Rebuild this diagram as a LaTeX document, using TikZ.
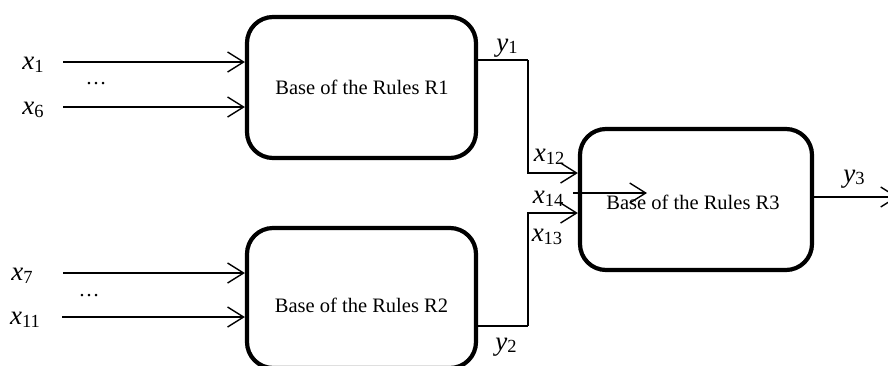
\documentclass[tikz,border=0pt]{standalone}
\usepackage{fontspec}
\setmainfont{Liberation Serif}
\usetikzlibrary{arrows.meta}
\newcommand\vlab[2]{\fontsize{27}{30}\selectfont\textit{#1}\fontsize{18.5}{20}\selectfont\raisebox{-0.3ex}{#2}}
\begin{document}
\begin{tikzpicture}[x=1pt,y=-1pt,
  rulebox/.style={draw, line width=4.2pt, rounded corners=26pt, inner sep=0pt,
    font=\fontsize{20.5}{22}\selectfont},
  conn/.style={line width=1.4pt, -{Straight Barb[length=16pt,width=20pt,line width=1.4pt]}},
  wire/.style={line width=1.4pt},
  lab/.style={inner sep=0pt},
  txt/.style={inner sep=0pt, font=\fontsize{20.5}{22}\selectfont}]
\useasboundingbox (0,0) rectangle (888,365);
\node[rulebox, minimum width=229pt, minimum height=141pt] (r1) at (361.5,87.5) {};
\node[txt] (r1t) at (362,87) {Base of the Rules R1};
\node[rulebox, minimum width=229pt, minimum height=140pt] (r2) at (361.5,298) {};
\node[txt] (r2t) at (361.5,305) {Base of the Rules R2};
\node[rulebox, minimum width=232pt, minimum height=141pt] (r3) at (696,199.5) {};
\node[txt] (r3t) at (693,202) {Base of the Rules R3};
% input labels
\node[lab] (lx1) at (33,65) {\vlab{x}{1}};
\node[lab] (lx6) at (33,110) {\vlab{x}{6}};
\node[lab] (lx7) at (22,276) {\vlab{x}{7}};
\node[lab] (lx11) at (25,320) {\vlab{x}{11}};
\node[lab, font=\fontsize{21}{21}\selectfont] (d1) at (96,84) {\dots};
\node[lab, font=\fontsize{21}{21}\selectfont] (d2) at (89,296) {\dots};
\coordinate (s1) at (63,62);
\coordinate (s6) at (63,107);
\coordinate (s7) at (63,273);
\coordinate (s11) at (62,317);
\draw[conn] (s1) -- (s1 -| r1.west);
\draw[conn] (s6) -- (s6 -| r1.west);
\draw[conn] (s7) -- (s7 -| r2.west);
\draw[conn] (s11) -- (s11 -| r2.west);
% y1 -> x12
\coordinate (o1) at (r1.east |- 0,60);
\coordinate (k1) at (528,60);
\coordinate (k2) at (528,173);
\draw[wire] (o1) -- (k1);
\draw[conn] (k1) -- (k2) -- (k2 -| r3.west);
% y2 -> x13
\coordinate (o2) at (r2.east |- 0,326);
\coordinate (k3) at (528,326);
\coordinate (k4) at (528,213);
\draw[wire] (o2) -- (k3);
\draw[conn] (k3) -- (k4) -- (k4 -| r3.west);
% x14
\coordinate (a14) at (573,193);
\coordinate (b14) at (647,193);
\draw[conn] (a14) -- (b14);
% y3
\coordinate (o3) at (r3.east |- 0,197);
\coordinate (e3) at (898,197);
\draw[conn] (o3) -- (e3);
% labels
\node[lab] (ly1) at (507,48) {\vlab{y}{1}};
\node[lab] (ly2) at (506,347) {\vlab{y}{2}};
\node[lab] (ly3) at (854,179) {\vlab{y}{3}};
\node[lab] (lx12) at (549,157) {\vlab{x}{12}};
\node[lab] (lx14) at (548,199) {\vlab{x}{14}};
\node[lab] (lx13) at (547,237) {\vlab{x}{13}};
\end{tikzpicture}
\end{document}
